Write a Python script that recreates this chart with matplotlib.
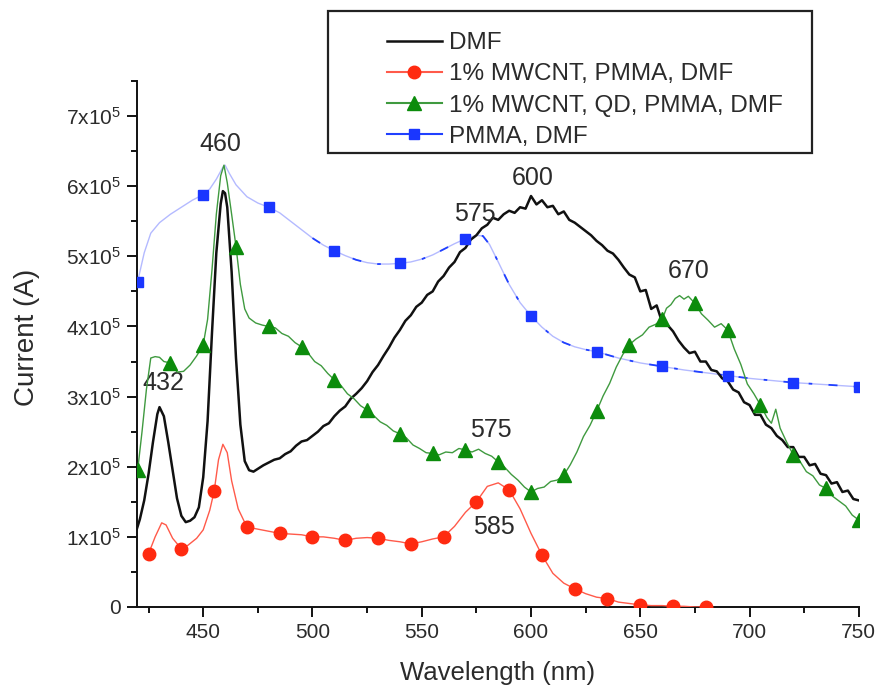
import numpy as np
import matplotlib
matplotlib.use("Agg")
from matplotlib import pyplot as plt
from matplotlib.lines import Line2D
from matplotlib.patches import Rectangle
from matplotlib.ticker import MultipleLocator, FuncFormatter

plt.rcParams['font.family'] = ['Liberation Sans', 'DejaVu Sans']
plt.rcParams['mathtext.fontset'] = 'custom'
plt.rcParams['mathtext.rm'] = 'Liberation Sans'
plt.rcParams['mathtext.it'] = 'Liberation Sans:italic'

SCALE = 1e5
TEXT_C = "#2b2b2b"

# DMF (black) -- peak region, then the 2.5 nm sampled part
wl_dmf_peaks = [419.7, 421, 423, 425, 427, 429, 430, 432, 434, 436,
                438, 440, 442, 444, 446, 448, 450, 452, 454, 456,
                458, 459, 460, 461, 463, 465, 467, 469, 471, 473, 475]
cur_dmf_peaks = [1.12, 1.25, 1.52, 1.90, 2.35, 2.75, 2.85, 2.72, 2.35, 1.95,
                 1.55, 1.30, 1.21, 1.23, 1.28, 1.42, 1.85, 2.65, 3.90, 5.05,
                 5.75, 5.93, 5.90, 5.70, 4.78, 3.55, 2.60, 2.08, 1.95, 1.93, 1.97]
wl_dmf_scan = np.arange(477.5, 750.1, 2.5)
cur_dmf_scan = [2.02, 2.06, 2.10, 2.12, 2.18, 2.22, 2.30, 2.36, 2.38, 2.44,
                2.50, 2.58, 2.62, 2.72, 2.80, 2.86, 2.97, 3.04, 3.12, 3.22,
                3.35, 3.45, 3.58, 3.70, 3.84, 3.95, 4.08, 4.16, 4.28, 4.34,
                4.45, 4.50, 4.64, 4.72, 4.84, 4.92, 5.06, 5.12, 5.24, 5.30,
                5.40, 5.45, 5.55, 5.52, 5.60, 5.65, 5.62, 5.70, 5.68,
                5.86, 5.74, 5.80, 5.70, 5.72, 5.60, 5.64, 5.52, 5.48, 5.42,
                5.36, 5.30, 5.22, 5.16, 5.08, 5.04, 4.95, 4.84, 4.74, 4.70,
                4.50, 4.52, 4.25, 4.30, 4.06, 4.02, 3.93, 3.80, 3.70, 3.62,
                3.64, 3.50, 3.50, 3.38, 3.36, 3.26, 3.22, 3.10, 3.06, 2.92,
                2.88, 2.74, 2.74, 2.60, 2.55, 2.44, 2.38, 2.28, 2.28, 2.14,
                2.14, 2.02, 2.04, 1.90, 1.88, 1.76, 1.78, 1.64, 1.66, 1.54,
                1.52]

# 1% MWCNT, PMMA, DMF (red)
wl_red = [425, 428, 431, 433, 436, 440, 443, 447, 450, 453,
          455, 457, 459, 461, 463, 466, 470, 475, 480, 485,
          490, 495, 500, 505, 510, 515, 520, 525, 530, 535,
          540, 545, 550, 555, 560, 565, 570, 575, 580, 585,
          590, 595, 600, 605, 610, 615, 620, 625, 630, 635,
          640, 645, 650, 655, 660, 665, 670, 675, 680]
cur_red = [0.76, 1.00, 1.20, 1.17, 0.98, 0.83, 0.88, 0.98, 1.10, 1.38,
           1.65, 2.10, 2.32, 2.20, 1.80, 1.40, 1.14, 1.11, 1.08, 1.05,
           1.04, 1.03, 1.00, 1.00, 0.98, 0.95, 0.98, 0.99, 0.98, 0.95,
           0.93, 0.90, 0.93, 0.97, 1.00, 1.15, 1.35, 1.50, 1.72, 1.77,
           1.67, 1.40, 1.05, 0.74, 0.48, 0.34, 0.26, 0.19, 0.14, 0.12,
           0.07, 0.05, 0.03, 0.02, 0.02, 0.01, 0.01, 0.00, 0.00]
mark_red = [425, 440, 455, 470, 485, 500, 515, 530, 545, 560,
            575, 590, 605, 620, 635, 650, 665, 680]

# 1% MWCNT, QD, PMMA, DMF (green)
wl_grn = [420, 422, 424, 426, 428, 430, 432, 435, 438, 441,
          444, 447, 450, 452, 454, 456, 458, 459.5, 461, 463,
          465, 467, 469, 471, 474, 477, 480, 483, 486, 489,
          492, 495, 498, 501, 504, 507, 510, 513, 516, 519,
          522, 525, 528, 531, 534, 537, 540, 543, 546, 549,
          552, 555, 558, 561, 564, 567, 570, 573, 576, 579,
          582, 585, 588, 591, 594, 597, 600, 603, 606, 609,
          612, 615, 618, 621, 624, 627, 630, 633, 636, 639,
          642, 645, 648, 651, 654, 657, 660, 662, 664, 666,
          668, 670, 672, 675, 678, 681, 684, 687, 690, 693,
          696, 699, 702, 705, 708, 710, 712, 714, 717, 720,
          723, 726, 729, 732, 735, 738, 741, 744, 747, 750]
cur_grn = [1.95, 2.50, 3.10, 3.55, 3.57, 3.56, 3.50, 3.48, 3.35, 3.36,
           3.45, 3.58, 3.74, 4.10, 4.80, 5.60, 6.15, 6.30, 6.05, 5.60,
           5.14, 4.60, 4.25, 4.12, 4.05, 4.02, 4.00, 3.98, 3.90, 3.86,
           3.77, 3.71, 3.62, 3.50, 3.44, 3.33, 3.24, 3.16, 3.04, 2.97,
           2.87, 2.81, 2.73, 2.64, 2.59, 2.51, 2.47, 2.41, 2.31, 2.26,
           2.20, 2.19, 2.17, 2.21, 2.20, 2.26, 2.24, 2.21, 2.25, 2.19,
           2.15, 2.07, 1.99, 1.89, 1.81, 1.71, 1.64, 1.69, 1.71, 1.79,
           1.81, 1.88, 2.03, 2.21, 2.43, 2.59, 2.79, 3.01, 3.19, 3.42,
           3.60, 3.74, 3.82, 3.88, 3.99, 4.03, 4.10, 4.26, 4.31, 4.40,
           4.44, 4.39, 4.43, 4.33, 4.18, 4.09, 3.99, 4.04, 3.95, 3.68,
           3.46, 3.18, 3.04, 2.88, 2.70, 2.62, 2.82, 2.55, 2.35, 2.17,
           2.08, 1.93, 1.87, 1.74, 1.69, 1.58, 1.51, 1.44, 1.31, 1.24]
mark_grn = [420, 435, 450, 465, 480, 495, 510, 525, 540, 555, 570, 585,
            600, 615, 630, 645, 660, 675, 690, 705, 720, 735, 750]

# PMMA, DMF (blue)
wl_blu = [420, 423, 426, 430, 435, 440, 445, 450, 453, 456,
          459, 460, 462, 465, 470, 475, 480, 485, 490, 495,
          500, 505, 510, 515, 520, 525, 530, 535, 540, 545,
          550, 555, 560, 565, 570, 575, 578, 581, 585, 590,
          595, 600, 605, 610, 615, 620, 625, 630, 640, 650,
          660, 670, 680, 690, 700, 710, 720, 730, 740, 750]
cur_blu = [4.64, 5.05, 5.33, 5.48, 5.60, 5.70, 5.80, 5.88, 5.96, 6.10,
           6.27, 6.30, 6.18, 6.02, 5.85, 5.76, 5.70, 5.62, 5.50, 5.38,
           5.26, 5.16, 5.08, 5.01, 4.95, 4.91, 4.89, 4.89, 4.90, 4.92,
           4.96, 5.02, 5.10, 5.18, 5.25, 5.30, 5.29, 5.17, 4.92, 4.60,
           4.34, 4.15, 3.99, 3.86, 3.77, 3.71, 3.67, 3.64, 3.55, 3.48,
           3.43, 3.38, 3.34, 3.30, 3.26, 3.23, 3.20, 3.18, 3.16, 3.14]
mark_blu = [420, 450, 480, 510, 540, 570, 600, 630, 660, 690, 720, 750]

labels = ["DMF", "1% MWCNT, PMMA, DMF", "1% MWCNT, QD, PMMA, DMF", "PMMA, DMF"]

# peak annotations: text, wavelength, current (x1e5)
peak_text = ["460", "432", "600", "575", "670", "575", "585"]
peak_x = [457.8, 431.6, 600.9, 574.3, 672.3, 581.6, 583.0]
peak_y = [6.60, 3.19, 6.11, 5.61, 4.79, 2.53, 1.14]


def marker_idx(wl, marks):
    marks = set(marks)
    return [i for i, w in enumerate(wl) if w in marks]


def current_label(v, pos):
    n = int(round(v / SCALE))
    return "0" if n == 0 else f"{n}x10$^{{5}}$"


fig = plt.figure(figsize=(8.82, 6.88), dpi=100)
ax = fig.add_axes([137 / 882, 1 - 607 / 688, (858.8 - 137) / 882, (607 - 81) / 688])

wl_dmf = np.concatenate([wl_dmf_peaks, wl_dmf_scan])
cur_dmf = np.concatenate([cur_dmf_peaks, cur_dmf_scan]) * SCALE
ax.plot(wl_dmf, cur_dmf, color="#111111", lw=1.8, zorder=3)

ax.plot(wl_red, np.array(cur_red) * SCALE, color="#ff5a4a", lw=1.0,
        marker="o", ms=9, mfc="#ff2a10", mec="#ff2a10",
        markevery=marker_idx(wl_red, mark_red), zorder=4)

ax.plot(wl_grn, np.array(cur_grn) * SCALE, color="#3f9a3f", lw=1.0,
        marker="^", ms=10, mfc="#0c8c0c", mec="#0c8c0c",
        markevery=marker_idx(wl_grn, mark_grn), zorder=4)

blu = np.array(cur_blu) * SCALE
ax.plot(wl_blu, blu, color="#b4baff", lw=1.0, zorder=2)
tail = np.array(wl_blu) >= 500
ax.plot(np.array(wl_blu)[tail], blu[tail], color="#2040ff", lw=1.3,
        dashes=(5, 9, 2, 9), zorder=2)
ax.plot(wl_blu, blu, ls="none", marker="s", ms=6.5, mfc="#1a36ff", mec="#1a36ff",
        markevery=marker_idx(wl_blu, mark_blu), zorder=5)

for t, x, y in zip(peak_text, peak_x, peak_y):
    ax.text(x, y * SCALE, t, ha="center", va="center", fontsize=18, color=TEXT_C)

ax.set_xlim(419.7, 750)
ax.set_ylim(0, 7.5 * SCALE)
ax.xaxis.set_major_locator(MultipleLocator(50))
ax.xaxis.set_minor_locator(MultipleLocator(25))
ax.yaxis.set_major_locator(MultipleLocator(1 * SCALE))
ax.yaxis.set_minor_locator(MultipleLocator(0.5 * SCALE))
ax.yaxis.set_major_formatter(FuncFormatter(current_label))
ax.tick_params(which="major", direction="out", length=7.5, width=1.3,
               labelsize=15, labelcolor=TEXT_C, pad=4)
ax.tick_params(which="minor", direction="out", length=4.2, width=1.3)

for side in ["top", "right"]:
    ax.spines[side].set_visible(False)
for side in ["left", "bottom"]:
    ax.spines[side].set_linewidth(1.4)
    ax.spines[side].set_color("#111111")

ax.set_xlabel("Wavelength (nm)", fontsize=18.5, color=TEXT_C, labelpad=14)
ax.set_ylabel("Current (A)", fontsize=20, color=TEXT_C)
ax.yaxis.set_label_coords(-0.135, 0.513)

handles = [
    Line2D([], [], color="#111111", lw=1.8),
    Line2D([], [], color="#ff5a4a", lw=1.5, marker="o", ms=9, mfc="#ff2a10", mec="#ff2a10"),
    Line2D([], [], color="#3f9a3f", lw=1.5, marker="^", ms=10, mfc="#0c8c0c", mec="#0c8c0c"),
    Line2D([], [], color="#2040ff", lw=1.5, marker="s", ms=6.5, mfc="#1a36ff", mec="#1a36ff"),
]
fig.legend(handles, labels, loc="upper left", bbox_to_anchor=(387 / 882, 1 - 32 / 688),
           frameon=False, borderpad=0, borderaxespad=0, fontsize=17.5,
           handlelength=2.25, handletextpad=0.3, labelspacing=0.38, labelcolor=TEXT_C)
fig.patches.append(Rectangle((328 / 882, 1 - 153 / 688), (812 - 328) / 882, (153 - 11) / 688,
                             transform=fig.transFigure, fill=False, lw=1.6, ec="#222222"))

fig.savefig("out.png", dpi=100)
